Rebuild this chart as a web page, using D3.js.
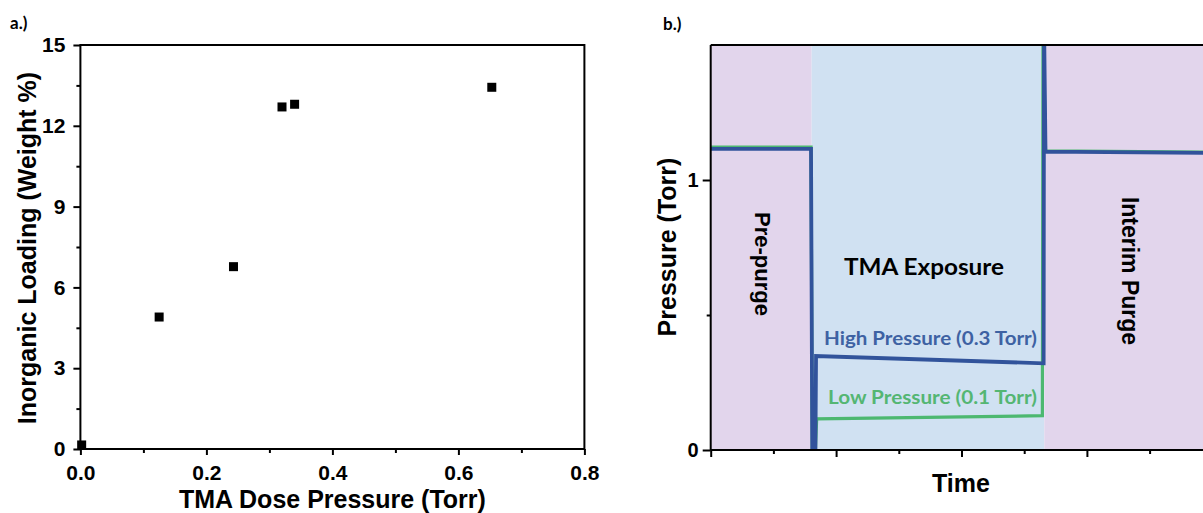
<!DOCTYPE html>
<html>
<head>
<meta charset="utf-8">
<script src="https://cdn.jsdelivr.net/npm/d3@7"></script>
<style>
  html, body { margin: 0; padding: 0; background: #fff; }
  svg text { font-family: "Liberation Sans", Arial, sans-serif; font-weight: bold; }
</style>
</head>
<body>
<div id="chart"></div>
<script>
// ---- panel a data: inorganic loading vs TMA dose pressure
const dosePressure = [0.002, 0.125, 0.243, 0.320, 0.340, 0.653];
const loadingWt = [0.15, 4.90, 6.77, 12.70, 12.80, 13.43];
const loadTicks = [0, 3, 6, 9, 12, 15];
const doseTicks = [0, 0.2, 0.4, 0.6, 0.8];

// ---- panel b data: pressure trace over one cycle (arbitrary time units)
const highTime = [0, 8.0, 8.1, 8.35, 8.4, 26.55, 26.58, 26.7, 41];
const highPress = [1.115, 1.115, 0, 0, 0.348, 0.321, 1.6, 1.105, 1.10];
const lowTime = [0, 8.0, 8.1, 8.35, 8.45, 26.45, 26.5, 26.7, 41];
const lowPress = [1.122, 1.122, 0, 0, 0.115, 0.127, 1.6, 1.108, 1.103];
const phases = [
    { name: "Pre-purge", start: 0, end: 8.05, fill: "#e2d5ec" },
    { name: "TMA Exposure", start: 8.05, end: 26.6, fill: "#d0e1f2" },
    { name: "Interim Purge", start: 26.6, end: 41, fill: "#e2d5ec" }
];
const timeMajor = [0, 10, 20, 30, 40];
const timeMinor = [5, 15, 25, 35];

const svg = d3.select("#chart").append("svg")
    .attr("width", 1203)
    .attr("height", 513);

// ================= panel a =================
const ax = d3.scaleLinear().domain([0, 0.8]).range([80.4, 584.4]);
const ay = d3.scaleLinear().domain([0, 15]).range([449, 45]);

const ga = svg.append("g");

// frame
ga.append("rect")
    .attr("x", ax(0)).attr("y", ay(15))
    .attr("width", ax(0.8) - ax(0)).attr("height", ay(0) - ay(15))
    .attr("fill", "none").attr("stroke", "#000").attr("stroke-width", 2);

// axes
ga.append("g").attr("transform", "translate(0," + ay(0) + ")")
    .call(d3.axisBottom(ax).tickValues(doseTicks).tickSize(6).tickPadding(10).tickFormat(d3.format(".1f")));
ga.append("g").attr("transform", "translate(0," + ay(0) + ")")
    .call(d3.axisBottom(ax).tickValues([0.1, 0.3, 0.5, 0.7]).tickSize(4).tickFormat(""));
ga.append("g").attr("transform", "translate(" + ax(0) + ",0)")
    .call(d3.axisLeft(ay).tickValues(loadTicks).tickSize(7).tickPadding(8));
ga.append("g").attr("transform", "translate(" + ax(0) + ",0)")
    .call(d3.axisLeft(ay).tickValues([1.5, 4.5, 7.5, 10.5, 13.5]).tickSize(4).tickFormat(""));

ga.selectAll(".domain").remove();
ga.selectAll(".tick line").attr("stroke", "#000").attr("stroke-width", 2);
ga.selectAll(".tick text").attr("fill", "#000").style("font-size", "21px");

// data squares
const pts = dosePressure.map((d, i) => ({ x: d, y: loadingWt[i] }));
ga.selectAll("rect.pt").data(pts).enter().append("rect")
    .attr("class", "pt")
    .attr("x", d => ax(d.x) - 4.5)
    .attr("y", d => ay(d.y) - 4.5)
    .attr("width", 9).attr("height", 9)
    .attr("fill", "#000");

// labels
ga.append("text")
    .attr("x", (ax(0) + ax(0.8)) / 2).attr("y", 508)
    .attr("text-anchor", "middle")
    .style("font-size", "25px")
    .text("TMA Dose Pressure (Torr)");
ga.append("text")
    .attr("transform", "translate(36,248) rotate(-90)")
    .attr("text-anchor", "middle")
    .style("font-size", "25px")
    .text("Inorganic Loading (Weight %)");
ga.append("text").attr("x", 10).attr("y", 29)
    .style("font-family", "Lato, sans-serif").style("font-size", "17px").text("a.)");

// ================= panel b =================
const bx = d3.scaleLinear().domain([0, 41]).range([710.7, 710.7 + 12.54 * 41]);
const by = d3.scaleLinear().domain([0, 1.5]).range([450, 45]);

const gb = svg.append("g");

gb.append("clipPath").attr("id", "clipB")
    .append("rect")
    .attr("x", bx(0)).attr("y", by(1.5))
    .attr("width", 1203 - bx(0)).attr("height", by(0) - by(1.5));

const plot = gb.append("g").attr("clip-path", "url(#clipB)");

plot.selectAll("rect.phase").data(phases).enter().append("rect")
    .attr("class", "phase")
    .attr("x", d => bx(d.start))
    .attr("y", by(1.5))
    .attr("width", d => bx(d.end) - bx(d.start))
    .attr("height", by(0) - by(1.5))
    .attr("fill", d => d.fill);

const line = d3.line().x(d => bx(d[0])).y(d => by(d[1]));

plot.append("path")
    .datum(lowTime.map((t, i) => [t, lowPress[i]]))
    .attr("d", line)
    .attr("fill", "none")
    .attr("stroke", "#4cb870")
    .attr("stroke-width", 3.2);

plot.append("path")
    .datum(highTime.map((t, i) => [t, highPress[i]]))
    .attr("d", line)
    .attr("fill", "none")
    .attr("stroke", "#31539b")
    .attr("stroke-width", 3.8);

// axes
gb.append("line")
    .attr("x1", bx(0)).attr("x2", 1203)
    .attr("y1", by(1.5)).attr("y2", by(1.5))
    .attr("stroke", "#000").attr("stroke-width", 2);

gb.append("g").attr("transform", "translate(0," + by(0) + ")")
    .call(d3.axisBottom(bx).tickValues(timeMajor).tickSize(7).tickFormat(""));
gb.append("g").attr("transform", "translate(0," + by(0) + ")")
    .call(d3.axisBottom(bx).tickValues(timeMinor).tickSize(4).tickFormat(""));
gb.append("g").attr("transform", "translate(" + bx(0) + ",0)")
    .call(d3.axisLeft(by).tickValues([0, 1]).tickSize(8).tickPadding(4).tickFormat(d3.format("d")));
gb.append("g").attr("transform", "translate(" + bx(0) + ",0)")
    .call(d3.axisLeft(by).tickValues([0.5]).tickSize(4).tickFormat(""));

gb.selectAll(".domain").remove();
gb.selectAll(".tick line").attr("stroke", "#000").attr("stroke-width", 2);
gb.selectAll(".tick text").attr("fill", "#000").style("font-size", "20px");

gb.append("line")
    .attr("x1", bx(0)).attr("x2", 1203)
    .attr("y1", by(0)).attr("y2", by(0))
    .attr("stroke", "#000").attr("stroke-width", 2);
gb.append("line")
    .attr("x1", bx(0)).attr("x2", bx(0))
    .attr("y1", by(1.5)).attr("y2", by(0))
    .attr("stroke", "#000").attr("stroke-width", 2);

// phase labels
gb.append("text")
    .attr("transform", "translate(" + (bx(4.02) - 6) + "," + 264 + ") rotate(90)")
    .attr("text-anchor", "middle")
    .style("font-size", "22px")
    .text(phases[0].name);
gb.append("text")
    .attr("transform", "translate(" + (bx(33.4) - 8) + "," + 271 + ") rotate(90)")
    .attr("text-anchor", "middle")
    .style("font-size", "23px")
    .text(phases[2].name);
gb.append("text")
    .attr("x", 924).attr("y", 275)
    .attr("text-anchor", "middle")
    .attr("textLength", 160).attr("lengthAdjust", "spacingAndGlyphs")
    .style("font-size", "22px")
    .style("font-family", "Lato, sans-serif")
    .text(phases[1].name);

gb.append("text")
    .attr("x", 1037).attr("y", 345)
    .attr("text-anchor", "end")
    .attr("textLength", 213).attr("lengthAdjust", "spacingAndGlyphs")
    .style("font-size", "19px")
    .style("font-family", "Lato, sans-serif")
    .attr("fill", "#3e62a3")
    .text("High Pressure (0.3 Torr)");
gb.append("text")
    .attr("x", 1037).attr("y", 404)
    .attr("text-anchor", "end")
    .attr("textLength", 209).attr("lengthAdjust", "spacingAndGlyphs")
    .style("font-size", "19px")
    .style("font-family", "Lato, sans-serif")
    .attr("fill", "#54b673")
    .text("Low Pressure (0.1 Torr)");

// axis labels
gb.append("text")
    .attr("x", 961).attr("y", 492)
    .attr("text-anchor", "middle")
    .style("font-size", "25px")
    .text("Time");
gb.append("text")
    .attr("transform", "translate(676,247) rotate(-90)")
    .attr("text-anchor", "middle")
    .style("font-size", "25px")
    .text("Pressure (Torr)");
gb.append("text").attr("x", 663).attr("y", 30)
    .style("font-family", "Lato, sans-serif").style("font-size", "17px").text("b.)");
</script>
</body>
</html>
